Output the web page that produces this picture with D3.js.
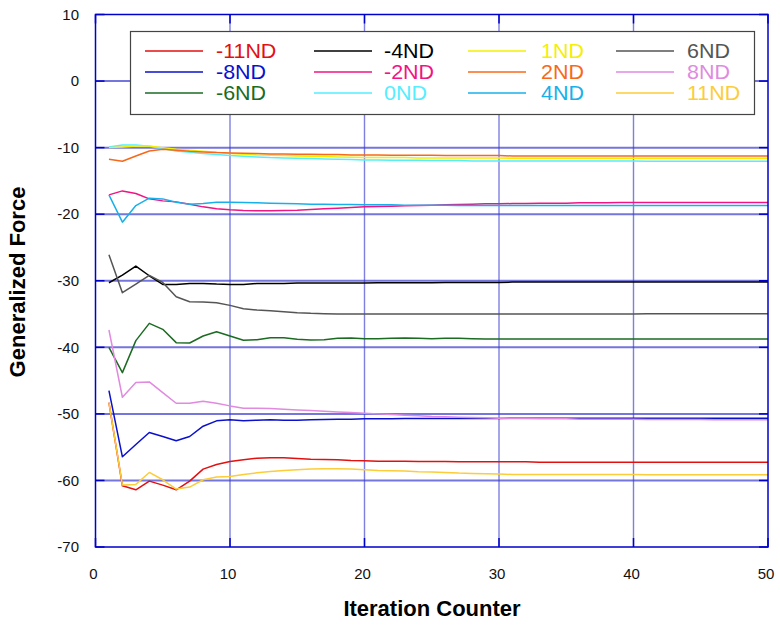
<!DOCTYPE html>
<html>
<head>
<meta charset="utf-8">
<script src="https://cdnjs.cloudflare.com/ajax/libs/d3/7.8.5/d3.min.js"></script>
<style>
  body { margin: 0; background: #fff; }
  text { font-family: Arial, "Liberation Sans", sans-serif; }
</style>
</head>
<body>
<div id="chart"></div>
<script>

var iterations = d3.range(1, 51);

var seriesNames = ["-11ND", "-8ND", "-6ND", "-4ND", "-2ND", "0ND", "1ND", "2ND", "4ND", "6ND", "8ND", "11ND"];
var seriesColors = ["#e31010", "#0a10cc", "#1b6b22", "#000000", "#f01484", "#55eeff", "#f4f000", "#f8681a", "#18b0ea", "#555555", "#e08ae0", "#fccd38"];

var neg11ND = [-48.3,-60.8,-61.4,-60.1,-60.7,-61.4,-60.1,-58.3,-57.6,-57.15,
  -56.9,-56.65,-56.6,-56.6,-56.7,-56.8,-56.85,-56.9,-57.0,-57.05,
  -57.1,-57.1,-57.1,-57.15,-57.15,-57.15,-57.2,-57.2,-57.2,-57.2,
  -57.2,-57.2,-57.25,-57.25,-57.25,-57.25,-57.25,-57.25,-57.25,-57.25,
  -57.25,-57.25,-57.25,-57.25,-57.25,-57.25,-57.25,-57.25,-57.25,-57.25];
var neg8ND = [-46.5,-56.45,-54.6,-52.8,-53.4,-54.05,-53.4,-51.85,-51.05,-50.9,
  -51.05,-50.95,-50.9,-50.95,-50.95,-50.9,-50.85,-50.8,-50.8,-50.75,
  -50.75,-50.75,-50.7,-50.7,-50.7,-50.7,-50.7,-50.7,-50.7,-50.7,
  -50.65,-50.65,-50.65,-50.65,-50.65,-50.65,-50.65,-50.65,-50.65,-50.65,
  -50.65,-50.65,-50.65,-50.65,-50.65,-50.65,-50.65,-50.65,-50.65,-50.65];
var neg6ND = [-40.0,-43.8,-39.0,-36.4,-37.3,-39.3,-39.35,-38.3,-37.65,-38.3,
  -38.95,-38.85,-38.55,-38.55,-38.8,-38.9,-38.85,-38.65,-38.6,-38.7,
  -38.7,-38.65,-38.6,-38.65,-38.7,-38.65,-38.65,-38.7,-38.75,-38.75,
  -38.75,-38.75,-38.75,-38.75,-38.75,-38.75,-38.75,-38.75,-38.75,-38.75,
  -38.75,-38.75,-38.75,-38.75,-38.75,-38.75,-38.75,-38.75,-38.75,-38.75];
var neg4ND = [-30.3,-29.15,-27.8,-29.25,-30.55,-30.55,-30.4,-30.4,-30.5,-30.55,
  -30.55,-30.4,-30.4,-30.4,-30.35,-30.35,-30.35,-30.35,-30.35,-30.35,
  -30.3,-30.3,-30.3,-30.3,-30.3,-30.25,-30.25,-30.25,-30.25,-30.25,
  -30.2,-30.2,-30.2,-30.2,-30.2,-30.2,-30.2,-30.2,-30.2,-30.2,
  -30.2,-30.2,-30.2,-30.2,-30.2,-30.2,-30.2,-30.2,-30.2,-30.2];
var neg2ND = [-17.1,-16.5,-16.9,-17.7,-18.0,-18.15,-18.5,-18.9,-19.2,-19.35,
  -19.45,-19.5,-19.5,-19.45,-19.4,-19.3,-19.2,-19.1,-19.0,-18.9,
  -18.85,-18.8,-18.75,-18.7,-18.65,-18.6,-18.55,-18.5,-18.45,-18.45,
  -18.4,-18.4,-18.35,-18.35,-18.35,-18.3,-18.3,-18.3,-18.25,-18.25,
  -18.25,-18.25,-18.25,-18.25,-18.25,-18.25,-18.25,-18.25,-18.25,-18.25];
var zeroND = [-9.9,-9.6,-9.6,-9.8,-10.15,-10.5,-10.7,-10.9,-11.05,-11.2,
  -11.3,-11.4,-11.5,-11.55,-11.6,-11.65,-11.7,-11.75,-11.8,-11.85,
  -11.85,-11.9,-11.9,-11.9,-11.95,-11.95,-11.95,-12.0,-12.0,-12.0,
  -12.0,-12.0,-12.0,-12.0,-12.0,-12.0,-12.0,-12.0,-12.0,-12.0,
  -12.05,-12.05,-12.05,-12.05,-12.05,-12.05,-12.05,-12.05,-12.05,-12.05];
var oneND = [-10.0,-9.9,-9.75,-9.75,-10.0,-10.25,-10.4,-10.55,-10.7,-10.9,
  -11.0,-11.1,-11.15,-11.2,-11.25,-11.3,-11.35,-11.4,-11.45,-11.5,
  -11.5,-11.5,-11.5,-11.55,-11.55,-11.55,-11.55,-11.55,-11.55,-11.55,
  -11.6,-11.6,-11.6,-11.6,-11.6,-11.6,-11.6,-11.6,-11.6,-11.6,
  -11.6,-11.6,-11.6,-11.6,-11.6,-11.6,-11.6,-11.6,-11.6,-11.6];
var twoND = [-11.75,-12.05,-11.25,-10.5,-10.25,-10.4,-10.55,-10.65,-10.75,-10.8,
  -10.85,-10.9,-10.95,-10.95,-11.0,-11.0,-11.05,-11.05,-11.1,-11.1,
  -11.1,-11.15,-11.15,-11.15,-11.15,-11.2,-11.2,-11.2,-11.2,-11.2,
  -11.25,-11.25,-11.25,-11.25,-11.25,-11.25,-11.25,-11.25,-11.25,-11.25,
  -11.25,-11.25,-11.25,-11.25,-11.25,-11.25,-11.25,-11.25,-11.25,-11.25];
var fourND = [-17.1,-21.2,-18.7,-17.6,-17.7,-18.2,-18.5,-18.4,-18.2,-18.2,
  -18.25,-18.3,-18.35,-18.4,-18.45,-18.5,-18.5,-18.55,-18.55,-18.6,
  -18.6,-18.6,-18.65,-18.65,-18.65,-18.65,-18.7,-18.7,-18.7,-18.7,
  -18.7,-18.7,-18.7,-18.7,-18.7,-18.7,-18.7,-18.7,-18.7,-18.7,
  -18.7,-18.7,-18.7,-18.7,-18.7,-18.7,-18.7,-18.7,-18.7,-18.7];
var sixND = [-26.1,-31.8,-30.5,-29.2,-30.25,-32.4,-33.15,-33.2,-33.3,-33.7,
  -34.2,-34.4,-34.5,-34.65,-34.8,-34.9,-34.95,-35.0,-35.0,-35.0,
  -35.0,-35.0,-35.0,-35.0,-35.0,-35.0,-35.0,-35.0,-35.0,-35.0,
  -35.0,-35.0,-35.0,-35.0,-35.0,-35.0,-35.0,-35.0,-35.0,-35.0,
  -34.95,-34.95,-34.95,-34.95,-34.95,-34.95,-34.95,-34.95,-34.95,-34.95];
var eightND = [-37.4,-47.5,-45.3,-45.2,-46.8,-48.4,-48.4,-48.1,-48.4,-48.8,
  -49.15,-49.15,-49.2,-49.3,-49.4,-49.5,-49.6,-49.7,-49.8,-49.9,
  -50.0,-50.1,-50.2,-50.3,-50.4,-50.45,-50.5,-50.55,-50.6,-50.65,
  -50.7,-50.7,-50.75,-50.75,-50.75,-50.8,-50.8,-50.8,-50.8,-50.8,
  -50.85,-50.85,-50.85,-50.85,-50.85,-50.9,-50.9,-50.9,-50.9,-50.9];
var elevenND = [-48.3,-60.7,-60.6,-58.8,-59.9,-61.3,-61.0,-59.9,-59.5,-59.4,
  -59.1,-58.85,-58.65,-58.5,-58.4,-58.3,-58.25,-58.25,-58.3,-58.4,
  -58.5,-58.55,-58.6,-58.7,-58.75,-58.8,-58.9,-58.95,-59.0,-59.05,
  -59.1,-59.1,-59.1,-59.1,-59.1,-59.1,-59.1,-59.1,-59.1,-59.1,
  -59.15,-59.15,-59.15,-59.15,-59.15,-59.15,-59.15,-59.15,-59.15,-59.15];

var allSeries = [neg11ND, neg8ND, neg6ND, neg4ND, neg2ND, zeroND, oneND, twoND, fourND, sixND, eightND, elevenND];

var xTicks = [0, 10, 20, 30, 40, 50];
var yTicks = [10, 0, -10, -20, -30, -40, -50, -60, -70];

var width = 780, height = 625;
var pLeft = 95.5, pRight = 768, pTop = 14.5, pBottom = 547;

var svg = d3.select("#chart").append("svg")
    .attr("width", width)
    .attr("height", height);

var x = d3.scaleLinear().domain([0, 50]).range([pLeft, pRight]);
var y = d3.scaleLinear().domain([-70, 10]).range([pBottom, pTop]);

// gridlines
svg.selectAll("line.hgrid")
    .data(yTicks.slice(1, -1)).enter().append("line")
    .attr("class", "hgrid")
    .attr("x1", pLeft).attr("x2", pRight)
    .attr("y1", function(d) { return y(d); })
    .attr("y2", function(d) { return y(d); })
    .attr("stroke", "#3a3ad0")
    .attr("stroke-opacity", 0.7)
    .attr("stroke-width", 2);

svg.selectAll("line.vgrid")
    .data(xTicks.slice(1, -1)).enter().append("line")
    .attr("class", "vgrid")
    .attr("y1", pTop).attr("y2", pBottom)
    .attr("x1", function(d) { return x(d); })
    .attr("x2", function(d) { return x(d); })
    .attr("stroke", "#3a3ad0")
    .attr("stroke-opacity", 0.65)
    .attr("stroke-width", 1.4);

// inward ticks on all sides
var tickLen = 9;
var tickG = svg.append("g").attr("stroke", "#0000cc").attr("stroke-width", 1.5);
yTicks.forEach(function(t) {
    tickG.append("line").attr("x1", pLeft).attr("x2", pLeft + tickLen).attr("y1", y(t)).attr("y2", y(t));
    tickG.append("line").attr("x1", pRight).attr("x2", pRight - tickLen).attr("y1", y(t)).attr("y2", y(t));
});
xTicks.forEach(function(t) {
    tickG.append("line").attr("y1", pBottom).attr("y2", pBottom - tickLen).attr("x1", x(t)).attr("x2", x(t));
    tickG.append("line").attr("y1", pTop).attr("y2", pTop + tickLen).attr("x1", x(t)).attr("x2", x(t));
});

// series lines
var line = d3.line()
    .x(function(d, i) { return x(iterations[i]); })
    .y(function(d) { return y(d); });

svg.selectAll("path.series")
    .data(allSeries).enter().append("path")
    .attr("class", "series")
    .attr("fill", "none")
    .attr("stroke", function(d, i) { return seriesColors[i]; })
    .attr("stroke-width", 1.5)
    .attr("stroke-linejoin", "round")
    .attr("d", line);

// plot border
svg.append("rect")
    .attr("x", pLeft).attr("y", pTop)
    .attr("width", pRight - pLeft).attr("height", pBottom - pTop)
    .attr("fill", "none")
    .attr("stroke", "#0000cc")
    .attr("stroke-width", 1.5);

// axis labels
svg.selectAll("text.ylab")
    .data(yTicks).enter().append("text")
    .attr("class", "ylab")
    .attr("x", 79)
    .attr("y", function(d) { return y(d); })
    .attr("dy", "0.35em")
    .attr("text-anchor", "end")
    .attr("font-size", 15)
    .attr("fill", "#111")
    .text(function(d) { return d; });

svg.selectAll("text.xlab")
    .data(xTicks).enter().append("text")
    .attr("class", "xlab")
    .attr("x", function(d) { return x(d) - 2; })
    .attr("y", 579)
    .attr("text-anchor", "middle")
    .attr("font-size", 15)
    .attr("fill", "#111")
    .text(function(d) { return d; });

svg.append("text")
    .attr("x", 432).attr("y", 616)
    .attr("text-anchor", "middle")
    .attr("font-size", 22)
    .attr("font-weight", "bold")
    .text("Iteration Counter");

svg.append("text")
    .attr("transform", "translate(25,282) rotate(-90)")
    .attr("text-anchor", "middle")
    .attr("font-size", 22)
    .attr("font-weight", "bold")
    .text("Generalized Force");

// legend
var legend = svg.append("g");
legend.append("rect")
    .attr("x", 130.5).attr("y", 31.5)
    .attr("width", 624).attr("height", 83)
    .attr("fill", "#fff")
    .attr("stroke", "#444")
    .attr("stroke-width", 1.2);

var colLine = [145, 314, 468, 616];
var colText = [216, 384, 541, 687];
var rowY = [51, 72, 93];

seriesNames.forEach(function(name, i) {
    var col = Math.floor(i / 3), row = i % 3;
    legend.append("line")
        .attr("x1", colLine[col]).attr("x2", colLine[col] + 58)
        .attr("y1", rowY[row]).attr("y2", rowY[row])
        .attr("stroke", seriesColors[i])
        .attr("stroke-width", 1.5);
    // original glyphs are a little wider than they are tall
    legend.append("text")
        .attr("transform", "translate(" + colText[col] + "," + rowY[row] + ") scale(1.1,1)")
        .attr("dy", "0.36em")
        .attr("font-size", 19.5)
        .attr("fill", seriesColors[i])
        .text(name);
});

</script>
</body>
</html>
